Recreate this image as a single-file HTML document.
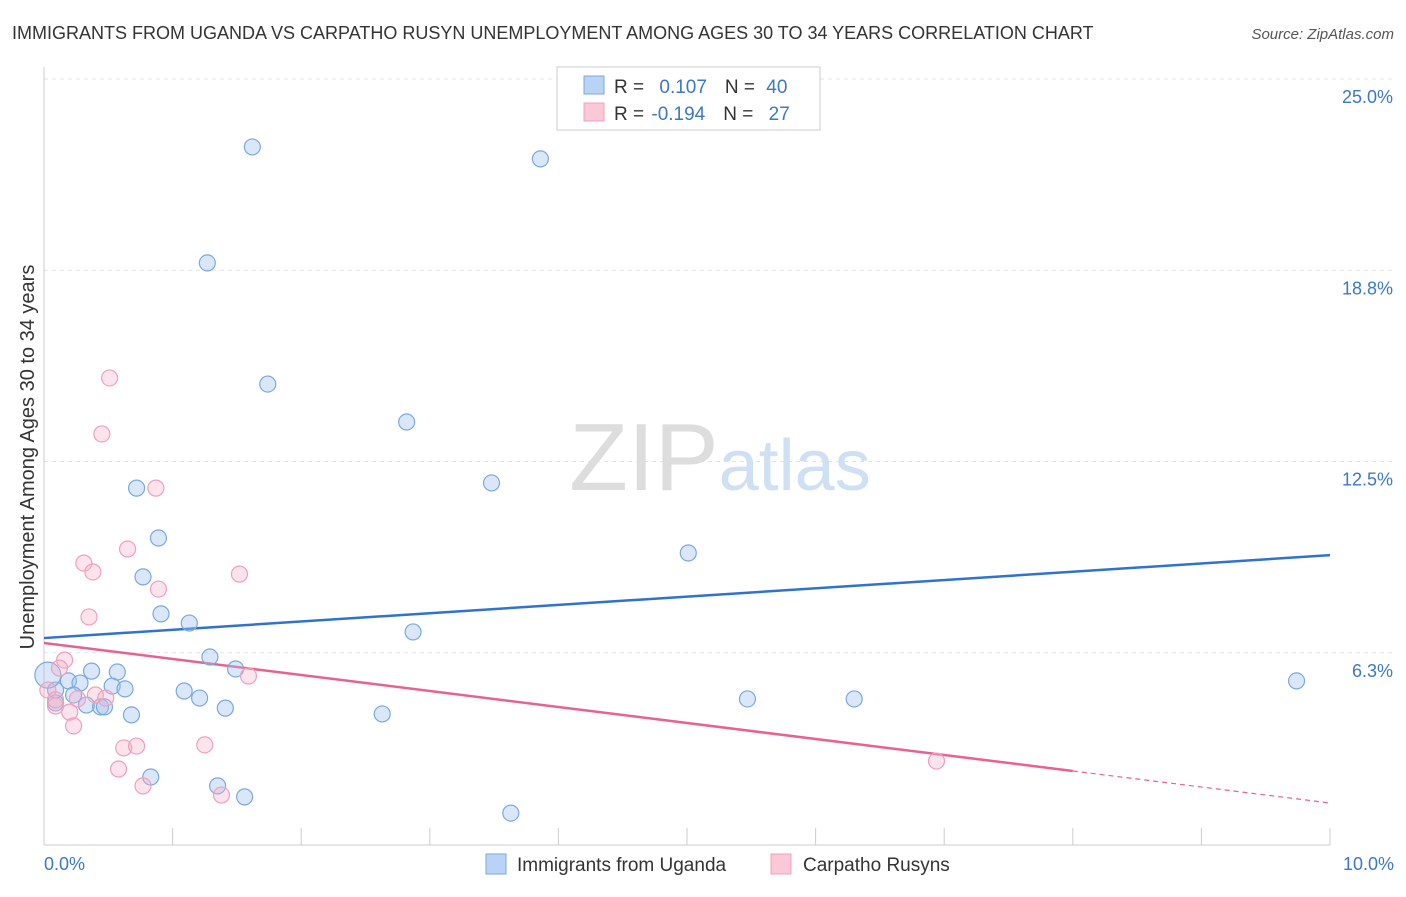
<!DOCTYPE html>
<html><head><meta charset="utf-8"><style>
body{margin:0;background:#fff;font-family:"Liberation Sans",sans-serif;}
svg text{font-family:"Liberation Sans",sans-serif;}
</style></head><body>
<svg id="chart" width="1406" height="892" xmlns="http://www.w3.org/2000/svg">
<text x="12" y="39" font-size="18" fill="#333">IMMIGRANTS FROM UGANDA VS CARPATHO RUSYN UNEMPLOYMENT AMONG AGES 30 TO 34 YEARS CORRELATION CHART</text>
<text x="1394" y="39" font-size="15" fill="#555" text-anchor="end" font-style="italic">Source: ZipAtlas.com</text>
<g id="grid"></g>
<g id="axes"></g>
<text x="720" y="490" font-size="96" text-anchor="middle" fill="#ddd" font-family="Liberation Serif,serif">ZIP<tspan fill="#cfe0f5" font-family="Liberation Sans,sans-serif" font-size="72">atlas</tspan></text>
<g id="lines"></g>
<g id="pts"></g>
<text transform="translate(34,457) rotate(-90)" font-size="20" fill="#333" text-anchor="middle">Unemployment Among Ages 30 to 34 years</text>
<g>
<rect x="557" y="67" width="263" height="63" fill="#fff" stroke="#ccc"/>
<rect x="584" y="76" width="20" height="18" fill="#b8d3f5" stroke="#7aa9e0"/>
<rect x="584" y="103" width="20" height="18" fill="#fbc8d8" stroke="#f0a0bc"/>
<text x="614" y="93" font-size="19" fill="#333">R = <tspan fill="#3b78c9" dx="10">0.107</tspan><tspan dx="18">N = </tspan><tspan fill="#3b78c9" dx="6">40</tspan></text>
<text x="614" y="120" font-size="19" fill="#333">R = <tspan fill="#3b78c9" dx="2">-0.194</tspan><tspan dx="18">N = </tspan><tspan fill="#3b78c9" dx="10">27</tspan></text>
</g>
<g>
<rect x="486" y="854" width="20" height="20" fill="#b8d3f5" stroke="#7aa9e0"/>
<text x="517" y="871" font-size="19" fill="#333">Immigrants from Uganda</text>
<rect x="771" y="854" width="20" height="20" fill="#fbc8d8" stroke="#f0a0bc"/>
<text x="803" y="871" font-size="19" fill="#333">Carpatho Rusyns</text>
</g>
</svg>
<script>
const yTicks=[25,18.75,12.5,6.25];
const yTickLabels=["25.0%","18.8%","12.5%","6.3%"];
const xTickLabels=["0.0%","10.0%"];
const blueX=[1.62,3.86,1.27,1.74,2.82,3.48,0.72,0.89,5.01,0.77,0.91,1.13,2.87,1.29,1.49,0.37,0.57,0.19,0.28,0.53,0.63,1.09,0.23,1.21,5.47,6.30,9.74,0.33,0.44,0.47,1.41,0.68,2.63,0.83,1.35,1.56,3.63,0.09,0.09,0.03];
const blueY=[22.78,22.39,18.99,15.03,13.79,11.80,11.63,10.00,9.51,8.73,7.52,7.22,6.93,6.11,5.72,5.65,5.62,5.33,5.26,5.16,5.07,5.00,4.87,4.77,4.74,4.74,5.33,4.54,4.48,4.48,4.44,4.22,4.25,2.19,1.90,1.54,1.01,4.61,5.03,5.52];
const pinkX=[0.51,0.45,0.87,0.65,0.31,0.38,1.52,0.89,0.35,0.16,0.12,1.59,0.40,0.48,0.26,0.09,0.20,0.23,0.62,0.72,1.25,0.58,0.77,1.38,6.94,0.03,0.09];
const pinkY=[15.23,13.40,11.63,9.64,9.18,8.89,8.82,8.33,7.42,6.01,5.75,5.49,4.87,4.77,4.74,4.51,4.31,3.86,3.14,3.20,3.24,2.45,1.90,1.60,2.71,5.03,4.71];
const blueTrend=[6.73,9.44];
const pinkTrend=[6.57,1.34];
const pinkSolidEnd=8.0;
const NS="http://www.w3.org/2000/svg";
const xs=v=>44+v*128.6, ys=v=>844-v*30.6;
function mk(tag,attrs,parent){const e=document.createElementNS(NS,tag);for(const k in attrs)e.setAttribute(k,attrs[k]);document.getElementById(parent).appendChild(e);return e;}
yTicks.forEach((t,i)=>{
 const l=mk('line',{x1:44,x2:1394,y1:ys(t),y2:ys(t),stroke:'#e3e3e3','stroke-dasharray':'4,4'},'grid');
 
 
 const tx=mk('text',{x:1393,y:ys(t)+24,'font-size':18,fill:'#3b78c9','text-anchor':'end'},'grid');
 
 
 tx.textContent=yTickLabels[i];
});
mk('line',{x1:44,x2:44,y1:67,y2:845,stroke:'#ccc'},'axes');
mk('line',{x1:44,x2:1330,y1:845,y2:845,stroke:'#ccc'},'axes');
for(let i=0;i<=10;i++){const t=mk('line',{x1:xs(i),x2:xs(i),y1:828,y2:845,stroke:'#ccc'},'axes');}
[[0,'start',44],[10,'end',1394]].forEach((a,i)=>{const t=mk('text',{x:a[2],y:870,'font-size':18,fill:'#3b78c9','text-anchor':a[1]},'axes');t.textContent=xTickLabels[i];});
const bl=mk('line',{x1:xs(0),y1:ys(blueTrend[0]),x2:xs(10),y2:ys(blueTrend[1]),stroke:'#2f72d0','stroke-width':2.5},'lines');


const pAt=v=>pinkTrend[0]+(pinkTrend[1]-pinkTrend[0])*v/10;
const pl=mk('line',{x1:xs(0),y1:ys(pinkTrend[0]),x2:xs(pinkSolidEnd),y2:ys(pAt(pinkSolidEnd)),stroke:'#e8628f','stroke-width':2.5},'lines');


const pd=mk('line',{x1:xs(pinkSolidEnd),y1:ys(pAt(pinkSolidEnd)),x2:xs(10),y2:ys(pinkTrend[1]),stroke:'#e8628f','stroke-width':1.2,'stroke-dasharray':'5,4'},'lines');


blueX.forEach((x,i)=>{const c=mk('circle',{cx:xs(x),cy:ys(blueY[i]),r:i===blueX.length-1?13:8,fill:'rgba(160,196,240,0.4)',stroke:'#7aa9e0','stroke-width':1.2},'pts');});
pinkX.forEach((x,i)=>{const c=mk('circle',{cx:xs(x),cy:ys(pinkY[i]),r:8,fill:'rgba(247,175,200,0.35)',stroke:'#f0a0bc','stroke-width':1.2},'pts');});
</script>
</body></html>
